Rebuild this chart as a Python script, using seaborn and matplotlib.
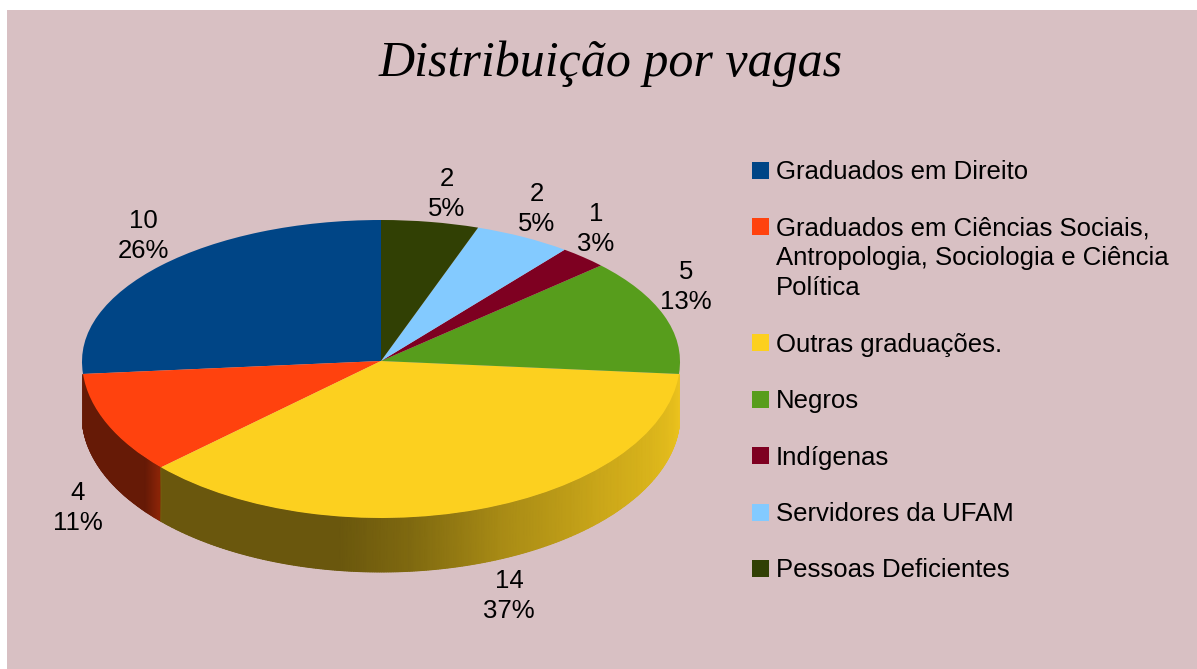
import numpy as np
import seaborn as sns
import matplotlib.pyplot as plt
from matplotlib.colors import LinearSegmentedColormap
from matplotlib.patches import Rectangle

categorias = ['Graduados em Direito',
              'Graduados em Ciências Sociais,\nAntropologia, Sociologia e Ciência\nPolítica',
              'Outras graduações.',
              'Negros',
              'Indígenas',
              'Servidores da UFAM',
              'Pessoas Deficientes']
vagas = [10, 4, 14, 5, 1, 2, 2]
cores = ['#004586', '#ff420e', '#fcd01f', '#579d1c', '#7e0021', '#83caff', '#314004']

W, H = 1197, 669
CX, CY = 381, 361      # centro da pizza em pixels
RX, RY_TOPO, RY_BASE = 299, 141, 157
ALTURA = 54
FUNDO = '#d8c0c3'

# sombra da lateral conforme o angulo
ang_sombra = [180, 218, 222.5, 222.7, 262, 275, 294, 317, 339, 360]
val_sombra = [0.40, 0.40, 0.56, 0.42, 0.42, 0.50, 0.67, 0.80, 0.88, 0.95]

# posicao dos rotulos (pixels)
pos_rotulos = [(143, 236), (78, 508), (509, 596), (686, 287), (596, 229), (537, 209), (447, 194)]

sns.set_theme(style='white')
plt.rcParams['font.family'] = ['Liberation Sans', 'DejaVu Sans']
paleta = sns.color_palette(cores)


def fig_xy(x, y):
    return x / W, 1 - y / H


fig = plt.figure(figsize=(W / 100, H / 100), dpi=100, facecolor='white')
fig.patches.append(Rectangle((7 / W, 0), 1 - 7 / W, 1 - 10 / H, transform=fig.transFigure,
                             facecolor=FUNDO, edgecolor='none', zorder=-5))
ax = fig.add_axes([0, 0, 1, 1])
ax.patch.set_alpha(0)

wedges, _ = ax.pie(vagas, colors=paleta, startangle=90, counterclock=True, radius=1,
                   wedgeprops={'linewidth': 0, 'zorder': 3})
ax.set_aspect('auto')
ax.set_xlim(-CX / RX, (W - CX) / RX)
ax.set_ylim(-(H - CY) / RY_TOPO, CY / RY_TOPO)
ax.axis('off')

# metade de baixo um pouco maior, por causa da perspectiva
for w in wedges:
    v = w.get_path().vertices
    v[v[:, 1] < 0, 1] *= RY_BASE / RY_TOPO

# lateral 3D
total = sum(vagas)
inicio = 90.0
for valor, cor in zip(vagas, paleta):
    fim = inicio + valor / total * 360
    cmap = LinearSegmentedColormap.from_list('lado', ['black', cor])
    for a1, a2 in [(inicio, fim), (inicio - 360, fim - 360)]:
        a1, a2 = max(a1, 180), min(a2, 360)
        # pedacos muito finos nas pontas nao aparecem na lateral
        if a2 - a1 < 6:
            continue
        graus = np.linspace(a1, a2, int(a2 - a1) * 3 + 2)
        t = np.radians(graus)
        topo = np.sin(t) * RY_BASE / RY_TOPO
        X = np.vstack([np.cos(t), np.cos(t)])
        Y = np.vstack([topo, topo - ALTURA / RY_TOPO])
        C = np.interp(graus, ang_sombra, val_sombra)
        ax.pcolormesh(X, Y, np.vstack([C, C]), cmap=cmap, vmin=0, vmax=1, shading='gouraud', zorder=1)
    inicio = fim

for valor, (px, py) in zip(vagas, pos_rotulos):
    x, y = fig_xy(px, py)
    fig.text(x, y, f'{valor}\n{valor / total * 100:.0f}%', ha='center', va='center',
             fontsize=18.5, linespacing=1.3, color='black')

x, y = fig_xy(611, 64)
fig.text(x, y, 'Distribuição por vagas', ha='center', va='center', fontsize=36,
         family=['Liberation Serif', 'DejaVu Serif'], style='italic', color='black')

# legenda: o quadrado fica na primeira linha de cada item
y_item = 170
for nome, cor in zip(categorias, paleta):
    n = nome.count('\n')
    fig.patches.append(Rectangle(fig_xy(752, y_item + 8.5), 17 / W, 17 / H, transform=fig.transFigure,
                                 facecolor=cor, edgecolor='none'))
    x, y = fig_xy(776, y_item + 2 + n * 15)
    fig.text(x, y, nome, ha='left', va='center', fontsize=18.5, linespacing=1.3, color='black')
    y_item += n * 30 + 56.4

fig.savefig('out.png', dpi=100, facecolor='white')
